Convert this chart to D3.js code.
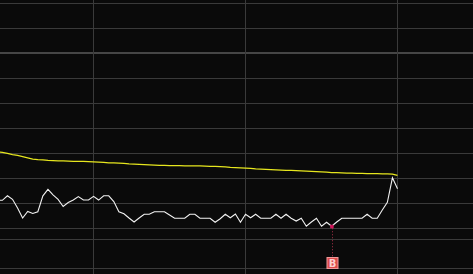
<!DOCTYPE html>
<html><head><meta charset="utf-8">
<script src="https://cdn.jsdelivr.net/npm/d3@7"></script>
<style>html,body{margin:0;padding:0;background:#0a0a0a;overflow:hidden}</style>
</head><body>
<svg id="c" width="473" height="274"></svg>
<script>
const periods = d3.range(80);
const price = [1.09,1.09,1.27,1.13,0.78,0.38,0.64,0.56,0.63,1.27,
  1.53,1.31,1.13,0.84,1.00,1.10,1.24,1.10,1.10,1.25,
  1.10,1.27,1.27,1.04,0.63,0.55,0.38,0.22,0.38,0.53,
  0.53,0.63,0.63,0.63,0.50,0.37,0.37,0.37,0.53,0.53,
  0.37,0.37,0.37,0.21,0.35,0.53,0.39,0.54,0.21,0.53,
  0.39,0.53,0.37,0.37,0.37,0.53,0.37,0.53,0.37,0.26,
  0.37,0.05,0.22,0.37,0.05,0.21,0.05,0.22,0.37,0.37,
  0.37,0.37,0.37,0.53,0.37,0.37,0.70,1.01,1.99,1.55];
const avg = [3.03,3.01,2.97,2.92,2.89,2.84,2.79,2.74,2.72,2.71,
  2.69,2.68,2.67,2.67,2.66,2.65,2.65,2.65,2.64,2.63,
  2.62,2.61,2.59,2.59,2.58,2.57,2.55,2.54,2.53,2.52,
  2.51,2.50,2.49,2.49,2.48,2.48,2.48,2.47,2.47,2.47,
  2.47,2.46,2.45,2.45,2.44,2.43,2.41,2.40,2.39,2.38,
  2.37,2.35,2.34,2.33,2.32,2.31,2.30,2.29,2.29,2.28,
  2.27,2.26,2.25,2.24,2.23,2.22,2.20,2.20,2.19,2.18,
  2.18,2.17,2.17,2.16,2.16,2.16,2.15,2.15,2.14,2.09];
const gridLevels = [0,1,2,3,4,5,6,7,8,9];
const boldLevel = 7;
const subLevels = [0,1];
const gridIdx = [19,49,79];
const buyIdx = 66;
const buyLabel = "B";

const svg = d3.select("#c");
svg.append("rect").attr("width",473).attr("height",274).attr("fill","#0a0a0a");

const x = d3.scaleLinear().domain([0,79]).range([-2.7,397.5]);
const y = d3.scaleLinear().domain([0,9]).range([227.5,3]);
const ySub = d3.scaleLinear().domain([0,1]).range([268,239]);

const g = svg.append("g");
g.selectAll("line.h").data(gridLevels).join("line")
  .attr("x1",0).attr("x2",473)
  .attr("y1",d=>Math.round(y(d))+ (d===boldLevel?0:0.5))
  .attr("y2",d=>Math.round(y(d))+ (d===boldLevel?0:0.5))
  .attr("stroke",d=>d===boldLevel?"#464646":"#3a3a3a")
  .attr("stroke-width",d=>d===boldLevel?2:1);
g.selectAll("line.s").data(subLevels).join("line")
  .attr("x1",0).attr("x2",473)
  .attr("y1",d=>Math.round(ySub(d))+0.5).attr("y2",d=>Math.round(ySub(d))+0.5)
  .attr("stroke","#3a3a3a");
g.selectAll("line.v").data(gridIdx).join("line")
  .attr("x1",d=>Math.round(x(d))-0.5).attr("x2",d=>Math.round(x(d))-0.5)
  .attr("y1",0).attr("y2",274)
  .attr("stroke","#3a3a3a");

const line = d3.line().x((d,i)=>x(periods[i])).y(d=>y(d));
svg.append("path").datum(avg).attr("d",line)
  .attr("fill","none").attr("stroke","#e6e61e").attr("stroke-width",1.2);
svg.append("path").datum(price).attr("d",line)
  .attr("fill","none").attr("stroke","#f2f2f2").attr("stroke-width",1.1);

// buy marker
const bx = x(periods[buyIdx]), by = y(price[buyIdx]);
svg.append("line").attr("x1",Math.round(bx)+0.5).attr("x2",Math.round(bx)+0.5)
  .attr("y1",by+2).attr("y2",257)
  .attr("stroke","#a83048").attr("stroke-dasharray","1,2");
svg.append("rect").attr("x",bx-1.5).attr("y",by-1.5).attr("width",3.5).attr("height",3.5)
  .attr("fill","#d0145a");
svg.append("rect").attr("x",Math.round(bx)-5).attr("y",257.5).attr("width",11).attr("height",11)
  .attr("fill","#dc4b4b").attr("stroke","#f09a9a").attr("stroke-width",1);
svg.append("text").attr("x",Math.round(bx)+0.5).attr("y",267)
  .attr("text-anchor","middle").attr("fill","#fbd0d0")
  .attr("font-family","DejaVu Sans, sans-serif").attr("font-size",10).attr("font-weight","bold")
  .text(buyLabel);
</script>
</body></html>
